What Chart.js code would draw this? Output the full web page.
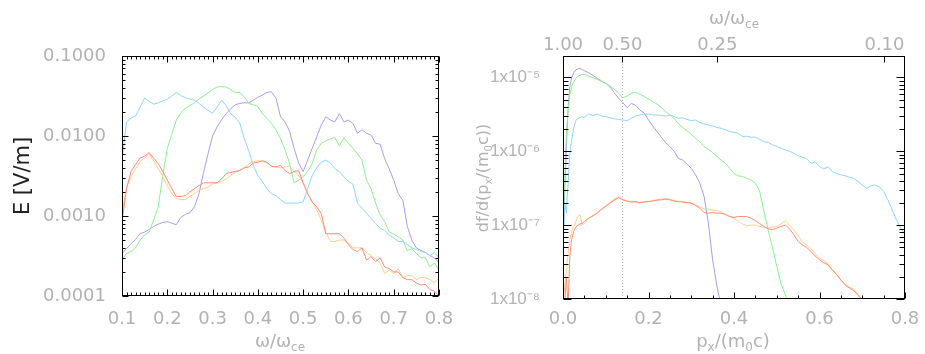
<!DOCTYPE html>
<html>
<head>
<meta charset="utf-8">
<script src="https://cdn.jsdelivr.net/npm/chart.js@4/dist/chart.umd.min.js"></script>
<style>
  body { margin: 0; background: #fff; }
  #contenedor { position: relative; width: 925px; height: 354px; }
  #graficoE { position: absolute; left: 0; top: 0; }
  #graficoF { position: absolute; left: 460px; top: 0; }
</style>
</head>
<body>
<div id="contenedor">
  <canvas id="graficoE" width="460" height="354"></canvas>
  <canvas id="graficoF" width="465" height="354"></canvas>
</div>
<script>
// ---- panel izquierdo: amplitud del campo E frente a w/wce ----
var omega = [0.10,0.11,0.12,0.13,0.14,0.15,0.16,0.17,0.18,0.19,
  0.20,0.21,0.22,0.23,0.24,0.25,0.26,0.27,0.28,0.29,
  0.30,0.31,0.32,0.33,0.34,0.35,0.36,0.37,0.38,0.39,
  0.40,0.41,0.42,0.43,0.44,0.45,0.46,0.47,0.48,0.49,
  0.50,0.51,0.52,0.53,0.54,0.55,0.56,0.57,0.58,0.59,
  0.60,0.61,0.62,0.63,0.64,0.65,0.66,0.67,0.68,0.69,
  0.70,0.71,0.72,0.73,0.74,0.75,0.76,0.77,0.78,0.79,0.80];

var eAzul = [0.0050,0.0150,0.0168,0.0178,0.0230,0.0300,0.0270,0.0250,0.0260,0.0275,
  0.0288,0.0316,0.0350,0.0320,0.0300,0.0290,0.0280,0.0256,0.0230,0.0210,
  0.0192,0.0230,0.0280,0.0240,0.0190,0.0172,0.0146,0.0093,0.0065,0.0043,
  0.0032,0.0027,0.0022,0.0019,0.0018,0.0016,0.00145,0.00145,0.00145,0.00145,
  0.0015,0.0022,0.0032,0.0040,0.0047,0.0050,0.0046,0.0039,0.0036,0.0031,
  0.0027,0.0025,0.00145,0.00125,0.00108,0.00093,0.00081,0.00070,0.00066,0.00058,
  0.00053,0.00048,0.00048,0.00044,0.00040,0.00038,0.00036,0.00035,0.00032,0.00035,0.00030];

var eVerde = [0.00028,0.00034,0.00036,0.00040,0.00050,0.00058,0.00063,0.00089,0.0013,0.0032,
  0.0070,0.0105,0.0158,0.0195,0.0222,0.0240,0.0260,0.0290,0.0316,0.0345,
  0.0380,0.0410,0.0415,0.0410,0.0380,0.0350,0.0350,0.0310,0.0256,0.0245,
  0.0234,0.0190,0.0166,0.0144,0.0119,0.0093,0.0067,0.0046,0.0026,0.0028,
  0.0031,0.0036,0.0045,0.0067,0.0081,0.0087,0.0092,0.0096,0.0075,0.0095,
  0.0081,0.0070,0.0060,0.0050,0.0028,0.0022,0.00145,0.00103,0.00085,0.00063,
  0.00060,0.00055,0.00050,0.00037,0.00039,0.00034,0.00030,0.00030,0.00023,0.00026,0.00021];

var ePurpura = [0.00034,0.00039,0.00045,0.00051,0.00060,0.00063,0.00068,0.00074,0.00079,0.00083,
  0.00085,0.00081,0.00078,0.00096,0.00105,0.0011,0.0013,0.0019,0.0035,0.0060,
  0.0100,0.0130,0.0160,0.0190,0.0220,0.0245,0.0256,0.0260,0.0260,0.0280,
  0.0305,0.0325,0.0350,0.0358,0.0297,0.0174,0.0150,0.0115,0.0070,0.0046,
  0.0036,0.0050,0.0070,0.0098,0.0137,0.0174,0.0158,0.0150,0.0190,0.0150,
  0.0158,0.0144,0.0108,0.0120,0.0108,0.0103,0.0081,0.0079,0.0052,0.0039,
  0.0028,0.0019,0.00158,0.00074,0.00050,0.00040,0.00037,0.00035,0.00032,0.00030,0.00026];

var eRojo = [0.00085,0.0022,0.0036,0.0044,0.0053,0.0056,0.0062,0.0053,0.0045,0.0036,
  0.0028,0.0022,0.00175,0.00175,0.0018,0.0020,0.0022,0.0024,0.0026,0.0026,
  0.0026,0.0026,0.0029,0.0034,0.0035,0.0036,0.0037,0.0040,0.0041,0.0046,
  0.0047,0.0049,0.0047,0.0042,0.0041,0.0043,0.0037,0.0034,0.0036,0.0037,
  0.0026,0.0019,0.0015,0.0013,0.00107,0.00060,0.00060,0.00060,0.00060,0.00053,
  0.00044,0.00038,0.00036,0.00040,0.00028,0.00031,0.00027,0.00030,0.00023,0.00022,
  0.00020,0.00020,0.00017,0.00016,0.00016,0.000145,0.000137,0.00014,0.00012,0.000115,0.00010];

var eNaranja = [0.0011,0.0023,0.0031,0.0039,0.0048,0.0053,0.0060,0.0049,0.0039,0.0031,
  0.0024,0.0019,0.00165,0.0016,0.0016,0.00175,0.0019,0.0021,0.0022,0.0023,
  0.0025,0.0026,0.0027,0.0029,0.0032,0.0035,0.0037,0.0040,0.0045,0.0048,
  0.0049,0.0049,0.0046,0.0042,0.0041,0.0040,0.0041,0.0042,0.0036,0.0032,
  0.0026,0.0019,0.0015,0.0012,0.00089,0.00063,0.00048,0.00048,0.00050,0.00050,
  0.00046,0.00040,0.00040,0.00040,0.00035,0.00032,0.00029,0.00026,0.00019,0.00021,
  0.00019,0.00022,0.00017,0.00018,0.00018,0.00016,0.00017,0.00017,0.00016,0.000145,0.00017];

var ticksOmega = [0.1,0.2,0.3,0.4,0.5,0.6,0.7,0.8];
var etiquetasOmega = ['0.1','0.2','0.3','0.4','0.5','0.6','0.7','0.8'];
var ticksE = [0.0001,0.001,0.01,0.1];
var etiquetasE = ['0.0001','0.0010','0.0100','0.1000'];

// ---- panel derecho: distribucion df/d(px/m0c) ----
var pX = [0,0.004,0.008,0.012,0.016,0.02,0.025,0.03,0.035,0.04,0.045,0.05,
  0.06,0.07,0.08,0.09,0.10,0.11,0.12,0.13,0.14,0.15,
  0.16,0.17,0.18,0.19,0.20,0.21,0.22,0.23,0.24,0.25,
  0.26,0.27,0.28,0.29,0.30,0.31,0.32,0.33,0.34,0.35,
  0.36,0.37,0.38,0.39,0.40,0.41,0.42,0.43,0.44,0.45,
  0.46,0.47,0.48,0.49,0.50,0.51,0.52,0.53,0.54,0.55,
  0.56,0.57,0.58,0.59,0.60,0.61,0.62,0.63,0.64,0.65,
  0.66,0.67,0.68,0.69,0.70,0.71,0.72,0.73,0.74,0.75,
  0.76,0.77,0.78,0.79,0.80];

var fAzul = [4.7e-8,2.0e-7,1.45e-7,3.7e-7,9.4e-7,1.4e-6,2.05e-6,2.6e-6,2.8e-6,2.85e-6,2.95e-6,2.85e-6,
  3.2e-6,3.05e-6,3.2e-6,3.0e-6,2.95e-6,2.85e-6,2.75e-6,2.7e-6,2.65e-6,2.6e-6,
  2.8e-6,3.0e-6,3.1e-6,3.2e-6,3.2e-6,3.1e-6,3.1e-6,3.05e-6,3.0e-6,3.1e-6,
  2.95e-6,2.8e-6,2.85e-6,2.7e-6,2.6e-6,2.65e-6,2.45e-6,2.35e-6,2.27e-6,2.2e-6,
  2.1e-6,2.05e-6,1.95e-6,1.85e-6,1.8e-6,1.75e-6,1.58e-6,1.6e-6,1.55e-6,1.55e-6,
  1.45e-6,1.35e-6,1.32e-6,1.22e-6,1.16e-6,1.1e-6,1.04e-6,1.0e-6,9.4e-7,8.7e-7,
  8.3e-7,8.0e-7,6.9e-7,7.2e-7,6.2e-7,5.75e-7,6.2e-7,5.3e-7,5.0e-7,4.8e-7,
  4.65e-7,4.45e-7,4.3e-7,3.9e-7,3.5e-7,3.15e-7,3.4e-7,3.5e-7,3.3e-7,2.85e-7,
  2.2e-7,1.6e-7,1.18e-7,9.1e-8,7.4e-8];

var fVerde = [9e-8,4.1e-7,1.75e-6,3.6e-6,5.8e-6,7.5e-6,8.7e-6,9.7e-6,1.04e-5,1.07e-5,1.1e-5,1.1e-5,
  1.04e-5,9.9e-6,9.4e-6,8.8e-6,8.3e-6,7.6e-6,6.9e-6,6.1e-6,5.3e-6,5.6e-6,
  6.1e-6,6.3e-6,5.9e-6,5.5e-6,5.1e-6,4.7e-6,4.35e-6,3.9e-6,3.45e-6,3.1e-6,
  2.8e-6,2.35e-6,2.1e-6,1.9e-6,1.7e-6,1.5e-6,1.35e-6,1.16e-6,1.06e-6,9.6e-7,
  8.5e-7,7.6e-7,6.9e-7,5.9e-7,5.0e-7,4.65e-7,4.55e-7,4.3e-7,4.1e-7,3.7e-7,
  2.9e-7,1.55e-7,8.5e-8,5.0e-8,2.75e-8,1.6e-8,1.15e-8,8e-9,null,null,
  null,null,null,null,null,null,null,null,null,null,
  null,null,null,null,null,null,null,null,null,null,
  null,null,null,null,null];

var fPurpura = [5e-8,3.0e-7,1.15e-6,4.0e-6,7.5e-6,9.7e-6,1.16e-5,1.26e-5,1.31e-5,1.32e-5,1.28e-5,1.23e-5,
  1.16e-5,1.07e-5,9.7e-6,9.0e-6,8.3e-6,7.5e-6,6.2e-6,5.2e-6,4.55e-6,3.9e-6,
  4.45e-6,4.2e-6,3.6e-6,3.3e-6,2.65e-6,2.2e-6,1.85e-6,1.55e-6,1.31e-6,1.16e-6,
  1.0e-6,8.0e-7,7.6e-7,6.7e-7,5.9e-7,4.8e-7,3.7e-7,2.45e-7,1.07e-7,3.4e-8,
  1.5e-8,8e-9,null,null,null,null,null,null,null,null,
  null,null,null,null,null,null,null,null,null,null,
  null,null,null,null,null,null,null,null,null,null,
  null,null,null,null,null,null,null,null,null,null,
  null,null,null,null,null];

var fNaranja = [8e-9,1.5e-8,2.5e-8,4.2e-8,6.3e-8,8.2e-8,9.6e-8,1.12e-7,1.31e-7,1.38e-7,1.0e-7,1.05e-7,
  1.24e-7,1.35e-7,1.48e-7,1.65e-7,1.83e-7,2.03e-7,2.25e-7,2.45e-7,2.25e-7,2.1e-7,
  2.1e-7,2.03e-7,2.03e-7,2.1e-7,2.1e-7,2.15e-7,2.2e-7,2.25e-7,2.3e-7,2.25e-7,
  2.15e-7,2.1e-7,2.1e-7,2.03e-7,2.0e-7,1.88e-7,1.75e-7,1.65e-7,1.65e-7,1.6e-7,
  1.57e-7,1.5e-7,1.38e-7,1.31e-7,1.24e-7,1.12e-7,1.04e-7,9.8e-8,1.0e-7,1.0e-7,
  9.6e-8,9.4e-8,9.1e-8,9.4e-8,9.6e-8,1.04e-7,1.15e-7,1.0e-7,8.7e-8,7.1e-8,
  6.0e-8,5.4e-8,4.8e-8,4.1e-8,3.6e-8,3.3e-8,3.0e-8,2.5e-8,2.2e-8,1.8e-8,
  1.6e-8,1.45e-8,1.36e-8,1.15e-8,9.8e-9,8e-9,null,null,null,null,
  null,null,null,null,null];

var fRojo = [5e-9,9e-9,1.9e-8,8e-9,3.8e-8,6.3e-8,8.2e-8,9.4e-8,1.0e-7,1.04e-7,1.05e-7,1.12e-7,
  1.24e-7,1.33e-7,1.45e-7,1.63e-7,1.8e-7,1.98e-7,2.18e-7,2.35e-7,2.2e-7,2.12e-7,
  2.05e-7,2.1e-7,2.0e-7,2.05e-7,2.08e-7,2.12e-7,2.18e-7,2.2e-7,2.25e-7,2.2e-7,
  2.12e-7,2.08e-7,2.05e-7,2.02e-7,1.98e-7,1.85e-7,1.7e-7,1.48e-7,1.45e-7,1.48e-7,
  1.45e-7,1.45e-7,1.4e-7,1.31e-7,1.27e-7,1.31e-7,1.31e-7,1.31e-7,1.24e-7,1.15e-7,
  1.05e-7,9.6e-8,8.9e-8,8.7e-8,9.1e-8,9.6e-8,1.0e-7,8.9e-8,7.4e-8,6.0e-8,
  5.4e-8,5.0e-8,4.4e-8,3.8e-8,3.4e-8,3.1e-8,2.9e-8,2.45e-8,2.15e-8,1.8e-8,
  1.55e-8,1.4e-8,1.3e-8,1.12e-8,9.8e-9,8e-9,null,null,null,null,
  null,null,null,null,null];

var ticksP = [0,0.2,0.4,0.6,0.8];
var etiquetasP = ['0.0','0.2','0.4','0.6','0.8'];
var ticksF = [1e-8,1e-7,1e-6,1e-5];
var etiquetasF = ['1x10\u207B\u2078','1x10\u207B\u2077','1x10\u207B\u2076','1x10\u207B\u2075'];
// eje superior: w/wce resonante para cada px
var ticksWSup = [0,0.139,0.361,0.752];
var etiquetasWSup = ['1.00','0.50','0.25','0.10'];
var pResonancia = [0.139];

var gris = '#b2b2b2';
var colores = { azul:'#8fd4ff', verde:'#90ee90', purpura:'#ac9ce8', rojo:'#ff8b7a', naranja:'#ffcf90' };
var fuente = { family: '"DejaVu Sans"', size: 18 };

function serie(xs, ys, color) {
  return {
    data: xs.map(function (x, i) { return { x: x, y: ys[i] }; }),
    borderColor: color, borderWidth: 1, pointRadius: 0,
    fill: false, tension: 0, spanGaps: false
  };
}

// marcas hacia dentro en los cuatro lados + recuadro negro
function valoresMarcas(s, m) {
  var out = [];
  if (m.log) {
    var e0 = Math.floor(Math.log10(s.min)), e1 = Math.ceil(Math.log10(s.max));
    for (var e = e0; e <= e1; e++) {
      for (var k = 1; k <= 9; k++) {
        var v = k * Math.pow(10, e);
        if (v >= s.min * 0.999 && v <= s.max * 1.001) out.push([v, k === 1]);
      }
    }
  } else if (m.paso) {
    var n = Math.round((s.max - s.min) / m.paso);
    for (var i = 0; i <= n; i++) out.push([s.min + i * m.paso, i % m.cada === 0]);
  } else {
    m.valores.forEach(function (v) { out.push([v, true]); });
  }
  return out;
}

var marcoEjes = {
  id: 'marcoEjes',
  afterDatasetsDraw: function (chart, args, opts) {
    var ctx = chart.ctx, a = chart.chartArea;
    var L = Math.round(a.left) + 0.5, R = Math.round(a.right) - 0.5;
    var T = Math.round(a.top) + 0.5, B = Math.round(a.bottom) - 0.5;
    ctx.save();
    ctx.strokeStyle = '#000';
    ctx.lineWidth = 1;
    ctx.beginPath();
    (opts.marcas || []).forEach(function (m) {
      var s = chart.scales[m.eje];
      valoresMarcas(s, m).forEach(function (par) {
        var p = Math.round(s.getPixelForValue(par[0])) + 0.5;
        var len = par[1] ? m.largo : m.corto;
        m.lados.forEach(function (lado) {
          if (lado === 'abajo') { ctx.moveTo(p, B); ctx.lineTo(p, B - len); }
          if (lado === 'arriba') { ctx.moveTo(p, T); ctx.lineTo(p, T + len); }
          if (lado === 'izq') { ctx.moveTo(L, p); ctx.lineTo(L + len, p); }
          if (lado === 'der') { ctx.moveTo(R, p); ctx.lineTo(R - len, p); }
        });
      });
    });
    ctx.stroke();
    ctx.strokeRect(L, T, R - L, B - T);
    ctx.restore();
  }
};

// titulos de ejes con subindices
var titulosEjes = {
  id: 'titulosEjes',
  afterDraw: function (chart, args, opts) {
    var ctx = chart.ctx;
    (opts.textos || []).forEach(function (t) {
      ctx.save();
      ctx.translate(t.x, t.y);
      if (t.girar) ctx.rotate(-Math.PI / 2);
      ctx.fillStyle = t.color;
      ctx.textBaseline = 'middle';
      ctx.textAlign = 'left';
      var partes = t.partes.map(function (p) {
        var tam = p[1] ? Math.round(t.tam * 0.65) : t.tam;
        ctx.font = tam + 'px "DejaVu Sans"';
        return { txt: p[0], tam: tam, sub: p[1], ancho: ctx.measureText(p[0]).width };
      });
      var total = partes.reduce(function (s, p) { return s + p.ancho; }, 0);
      var x = -total / 2;
      partes.forEach(function (p) {
        ctx.font = p.tam + 'px "DejaVu Sans"';
        ctx.fillText(p.txt, x, p.sub ? t.tam * 0.32 : 0);
        x += p.ancho;
      });
      ctx.restore();
    });
  }
};

function ejeX(min, max, valores, etiquetas, alto, pad, pos) {
  return {
    type: 'linear', position: pos || 'bottom', min: min, max: max,
    grid: { display: false }, border: { display: false },
    afterBuildTicks: function (s) { s.ticks = valores.map(function (v) { return { value: v }; }); },
    afterFit: function (s) { s.height = alto; },
    ticks: {
      color: gris, font: fuente, padding: pad, autoSkip: false, maxRotation: 0,
      callback: function (v, i) { return etiquetas[i]; }
    }
  };
}

function ejeY(min, max, valores, etiquetas, ancho, pad, letra) {
  return {
    type: 'logarithmic', min: min, max: max,
    grid: { display: false }, border: { display: false },
    afterBuildTicks: function (s) { s.ticks = valores.map(function (v) { return { value: v }; }); },
    afterFit: function (s) { s.width = ancho; },
    ticks: {
      color: gris, font: letra, padding: pad, autoSkip: false,
      callback: function (v, i) { return etiquetas[i]; }
    }
  };
}

new Chart(document.getElementById('graficoE'), {
  type: 'line',
  data: {
    datasets: [
      serie(omega, eRojo, colores.rojo),
      serie(omega, eNaranja, colores.naranja),
      serie(omega, eAzul, colores.azul),
      serie(omega, eVerde, colores.verde),
      serie(omega, ePurpura, colores.purpura)
    ]
  },
  options: {
    responsive: false, animation: false,
    layout: { padding: { top: 56, right: 21, left: 0, bottom: 0 } },
    scales: {
      x: ejeX(0.1, 0.8, ticksOmega, etiquetasOmega, 58, 5),
      y: ejeY(0.0001, 0.1, ticksE, etiquetasE, 122, 8, fuente)
    },
    plugins: {
      legend: { display: false }, tooltip: { enabled: false },
      marcoEjes: { marcas: [
        { eje: 'x', paso: 0.01, cada: 10, largo: 6, corto: 3, lados: ['abajo', 'arriba'] },
        { eje: 'y', log: true, largo: 6, corto: 3, lados: ['izq', 'der'] }
      ] },
      titulosEjes: { textos: [
        { partes: [['E [V/m]']], x: 24, y: 176, tam: 21, color: '#222', girar: true },
        { partes: [['\u03C9/\u03C9'], ['ce', true]], x: 280, y: 342, tam: 18, color: gris }
      ] }
    }
  },
  plugins: [marcoEjes, titulosEjes]
});

var lineaRes = {
  data: [{ x: pResonancia[0], y: 1e-8 }, { x: pResonancia[0], y: 1.95e-5 }],
  borderColor: '#aaaaaa', borderWidth: 1, borderDash: [1, 2], pointRadius: 0
};

new Chart(document.getElementById('graficoF'), {
  type: 'line',
  data: {
    datasets: [
      lineaRes,
      serie(pX, fRojo, colores.rojo),
      serie(pX, fNaranja, colores.naranja),
      serie(pX, fAzul, colores.azul),
      serie(pX, fVerde, colores.verde),
      serie(pX, fPurpura, colores.purpura)
    ]
  },
  options: {
    responsive: false, animation: false,
    layout: { padding: { top: 0, right: 20, left: 0, bottom: 0 } },
    scales: {
      x: ejeX(0, 0.8, ticksP, etiquetasP, 55, 2),
      x2: ejeX(0, 0.8, ticksWSup, etiquetasWSup, 56, -8, 'top'),
      y: ejeY(1e-8, 1.95e-5, ticksF, etiquetasF, 103, 15, { family: '"Liberation Sans"', size: 17 })
    },
    plugins: {
      legend: { display: false }, tooltip: { enabled: false },
      marcoEjes: { marcas: [
        { eje: 'x', paso: 0.05, cada: 4, largo: 6, corto: 3, lados: ['abajo'] },
        { eje: 'x2', valores: ticksWSup, largo: 6, corto: 6, lados: ['arriba'] },
        { eje: 'y', log: true, largo: 8, corto: 5, lados: ['izq', 'der'] }
      ] },
      titulosEjes: { textos: [
        { partes: [['\u03C9/\u03C9'], ['ce', true]], x: 274, y: 19, tam: 18, color: gris },
        { partes: [['p'], ['x', true], ['/(m'], ['0', true], ['c)']], x: 273, y: 342, tam: 18, color: gris },
        { partes: [['df/d(p'], ['x', true], ['/(m'], ['0', true], ['c))']], x: 24, y: 178, tam: 16, color: gris, girar: true }
      ] }
    }
  },
  plugins: [marcoEjes, titulosEjes]
});
</script>
</body>
</html>
